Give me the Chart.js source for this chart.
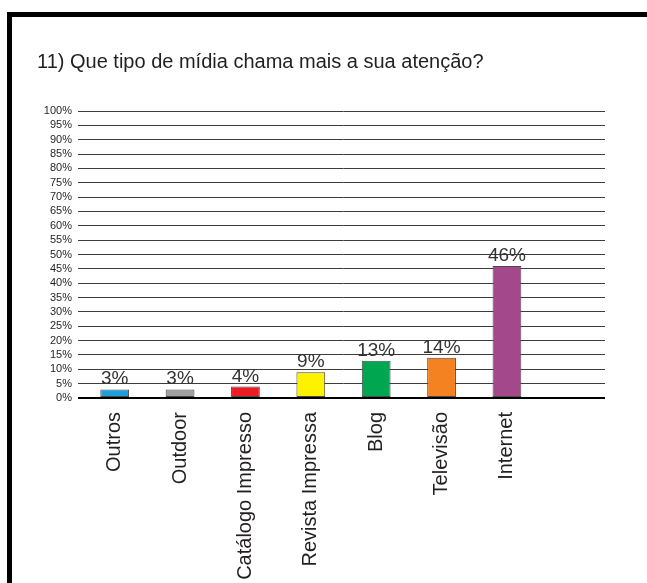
<!DOCTYPE html>
<html>
<head>
<meta charset="utf-8">
<script src="https://cdn.jsdelivr.net/npm/chart.js@4"></script>
<style>
  body { margin: 0; width: 647px; height: 583px; overflow: hidden; background: #fff; }
  #moldura { position: absolute; left: 7px; top: 12px; width: 800px; height: 800px; border: 5px solid #000; }
  #myChart { position: absolute; left: 0; top: 0; }
</style>
</head>
<body>
<div id="moldura"></div>
<canvas id="myChart" width="647" height="583"></canvas>
<script>
// dados do grafico
const titulo = "11) Que tipo de mídia chama mais a sua atenção?";
const categorias = ["Outros", "Outdoor", "Catálogo Impresso", "Revista Impressa", "Blog", "Televisão", "Internet"];
const valores = [3, 3, 4, 9, 13, 14, 46];
const cores = ["#1b9fdf", "#a0a0a0", "#ec1c24", "#fff200", "#00a650", "#f58220", "#a3488a"];

const fonte = "'Liberation Sans', Arial, Helvetica, sans-serif";

// escreve o valor em cima de cada barra
const rotulos = {
  id: "rotulos",
  afterDatasetsDraw(chart) {
    var ctx = chart.ctx;
    var meta = chart.getDatasetMeta(0);
    ctx.save();
    ctx.font = "19px " + fonte;
    ctx.fillStyle = "#333";
    ctx.textAlign = "center";
    ctx.textBaseline = "alphabetic";
    meta.data.forEach(function (bar, i) {
      if (valores[i] == null) return;
      ctx.fillText(valores[i] + "%", bar.x, bar.y - 5);
    });
    ctx.restore();
  },
};

var ctx = document.getElementById("myChart").getContext("2d");
var myChart = new Chart(ctx, {
  type: "bar",
  data: {
    // uma posicao vazia no fim, como no original
    labels: categorias.concat([""]),
    datasets: [
      {
        data: valores.concat([null]),
        backgroundColor: cores,
        borderColor: "#4a4a4a",
        borderWidth: 1,
        borderSkipped: false,
        barPercentage: 0.44,
        categoryPercentage: 1,
      },
    ],
  },
  options: {
    responsive: false,
    animation: false,
    layout: { padding: { left: 37, right: 42, top: 0, bottom: 0 } },
    plugins: {
      legend: { display: false },
      tooltip: { enabled: false },
      title: {
        display: true,
        text: titulo,
        align: "start",
        color: "#231f20",
        font: { family: fonte, size: 20, weight: "normal" },
        padding: { top: 50, bottom: 37 },
      },
    },
    scales: {
      y: {
        min: 0,
        max: 100,
        afterFit: function (s) { s.width = 45; },
        ticks: {
          stepSize: 5,
          autoSkip: false,
          padding: 6,
          color: "#231f20",
          font: { family: fonte, size: 11 },
          callback: function (v) { return v + "%"; },
        },
        grid: {
          drawTicks: true,
          tickLength: 4,
          color: function (c) { return c.tick && c.tick.value === 0 ? "#000" : "#3c3c3c"; },
          lineWidth: function (c) { return c.tick && c.tick.value === 0 ? 2 : 1; },
        },
        border: { display: false },
      },
      x: {
        afterFit: function (s) { s.height = 185; },
        grid: { display: false, drawTicks: false },
        border: { display: false },
        ticks: {
          autoSkip: false,
          minRotation: 90,
          maxRotation: 90,
          padding: 14,
          color: "#231f20",
          font: { family: fonte, size: 20 },
        },
      },
    },
  },
  plugins: [rotulos],
});
</script>
</body>
</html>
